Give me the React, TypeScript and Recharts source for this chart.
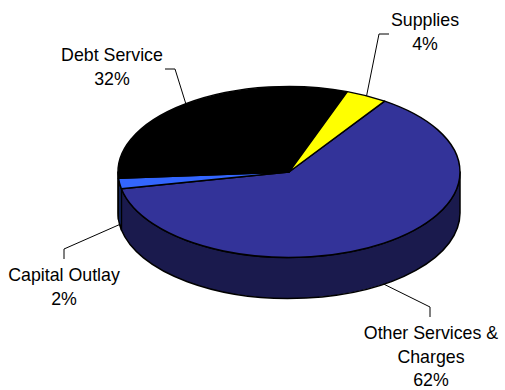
import { PieChart, Pie } from 'recharts';

const categories = ['Other Services & Charges', 'Capital Outlay', 'Debt Service', 'Supplies'];
const shares = [62.4, 2, 31.7, 3.9];
const topColors = ['#333399', '#3366FF', '#000000', '#FFFF00'];
const sideColors = ['#1A1A4D', '#1A3380', '#000000', '#808000'];
const labelLines = [['Other Services &', 'Charges', '62%'], ['Capital Outlay', '2%'], ['Debt Service', '32%'], ['Supplies', '4%']];

const data = categories.map((name, i) => ({ name, value: shares[i] }));

const WIDTH = 505;
const HEIGHT = 390;
const SQUASH = 0.5;
const DEPTH = 41;
const RAD = Math.PI / 180;

// where each label block sits: centre x, first baseline, then the leader's elbow and end
const labelLayout = [
    { x: 431, y: 339, elbow: [430, 307], end: [430, 317] },
    { x: 64, y: 281, elbow: [64, 249], end: [64, 259] },
    { x: 112, y: 61, elbow: [175, 69], end: [165, 69] },
    { x: 425, y: 26, elbow: [379, 34], end: [389, 34] },
];

const pointAt = (cx: number, cy: number, r: number, angle: number): [number, number] => [
    cx + r * Math.cos(angle * RAD),
    cy - r * SQUASH * Math.sin(angle * RAD),
];

function TopSlice(props: any) {
    const { cx, cy, outerRadius: r, startAngle, endAngle, index } = props;
    const [x0, y0] = pointAt(cx, cy, r, startAngle);
    const [x1, y1] = pointAt(cx, cy, r, endAngle);
    const large = Math.abs(startAngle - endAngle) > 180 ? 1 : 0;
    return (
        <path
            d={`M${cx},${cy}L${x0},${y0}A${r},${r * SQUASH} 0 ${large} 1 ${x1},${y1}Z`}
            fill={topColors[index]}
            stroke="#000"
            strokeWidth={1.5}
            strokeLinejoin="round"
        />
    );
}

// wall below the rim, only the part of the slice on the near half of the ellipse shows
function SideSlice(props: any) {
    const { cx, cy, outerRadius: r, startAngle, endAngle, index } = props;
    const from = Math.min(startAngle, 0);
    const to = Math.max(endAngle, -180);
    if (from <= to) return <g />;
    const [x0, y0] = pointAt(cx, cy, r, from);
    const [x1, y1] = pointAt(cx, cy, r, to);
    const ry = r * SQUASH;
    return (
        <path
            d={`M${x0},${y0}A${r},${ry} 0 0 1 ${x1},${y1}L${x1},${y1 + DEPTH}A${r},${ry} 0 0 0 ${x0},${y0 + DEPTH}Z`}
            fill={sideColors[index]}
            stroke="#000"
            strokeWidth={1.5}
            strokeLinejoin="round"
        />
    );
}

function SliceLabel(props: any) {
    const { cx, cy, outerRadius: r, midAngle, index } = props;
    const layout = labelLayout[index];
    const [ax, ay] = pointAt(cx, cy, r, midAngle);
    const near = Math.sin(midAngle * RAD) < 0;
    const startY = near ? ay + DEPTH : ay;
    return (
        <g>
            <polyline
                points={`${ax},${startY} ${layout.elbow.join(',')} ${layout.end.join(',')}`}
                fill="none"
                stroke="#000"
                strokeWidth={1}
            />
            {labelLines[index].map((line, i) => (
                <text
                    key={line}
                    x={layout.x}
                    y={layout.y + i * 23.5}
                    textAnchor="middle"
                    fontFamily="Liberation Sans"
                    fontSize={17.8}
                    fill="#000"
                >
                    {line}
                </text>
            ))}
        </g>
    );
}

export default function App() {
    return (
        <div style={{ position: 'absolute', left: 0, top: 0, width: WIDTH, height: HEIGHT, background: '#fff' }}>
            <PieChart width={WIDTH} height={HEIGHT} margin={{ top: 0, right: 0, bottom: 0, left: 0 }}>
                <Pie
                    data={data}
                    dataKey="value"
                    cx={289}
                    cy={172}
                    outerRadius={171}
                    startAngle={56}
                    endAngle={-304}
                    stroke="none"
                    shape={SideSlice}
                    label={false}
                    labelLine={false}
                    isAnimationActive={false}
                />
                <Pie
                    data={data}
                    dataKey="value"
                    cx={289}
                    cy={172}
                    outerRadius={171}
                    startAngle={56}
                    endAngle={-304}
                    stroke="none"
                    shape={TopSlice}
                    label={SliceLabel}
                    labelLine={false}
                    isAnimationActive={false}
                />
            </PieChart>
        </div>
    );
}
